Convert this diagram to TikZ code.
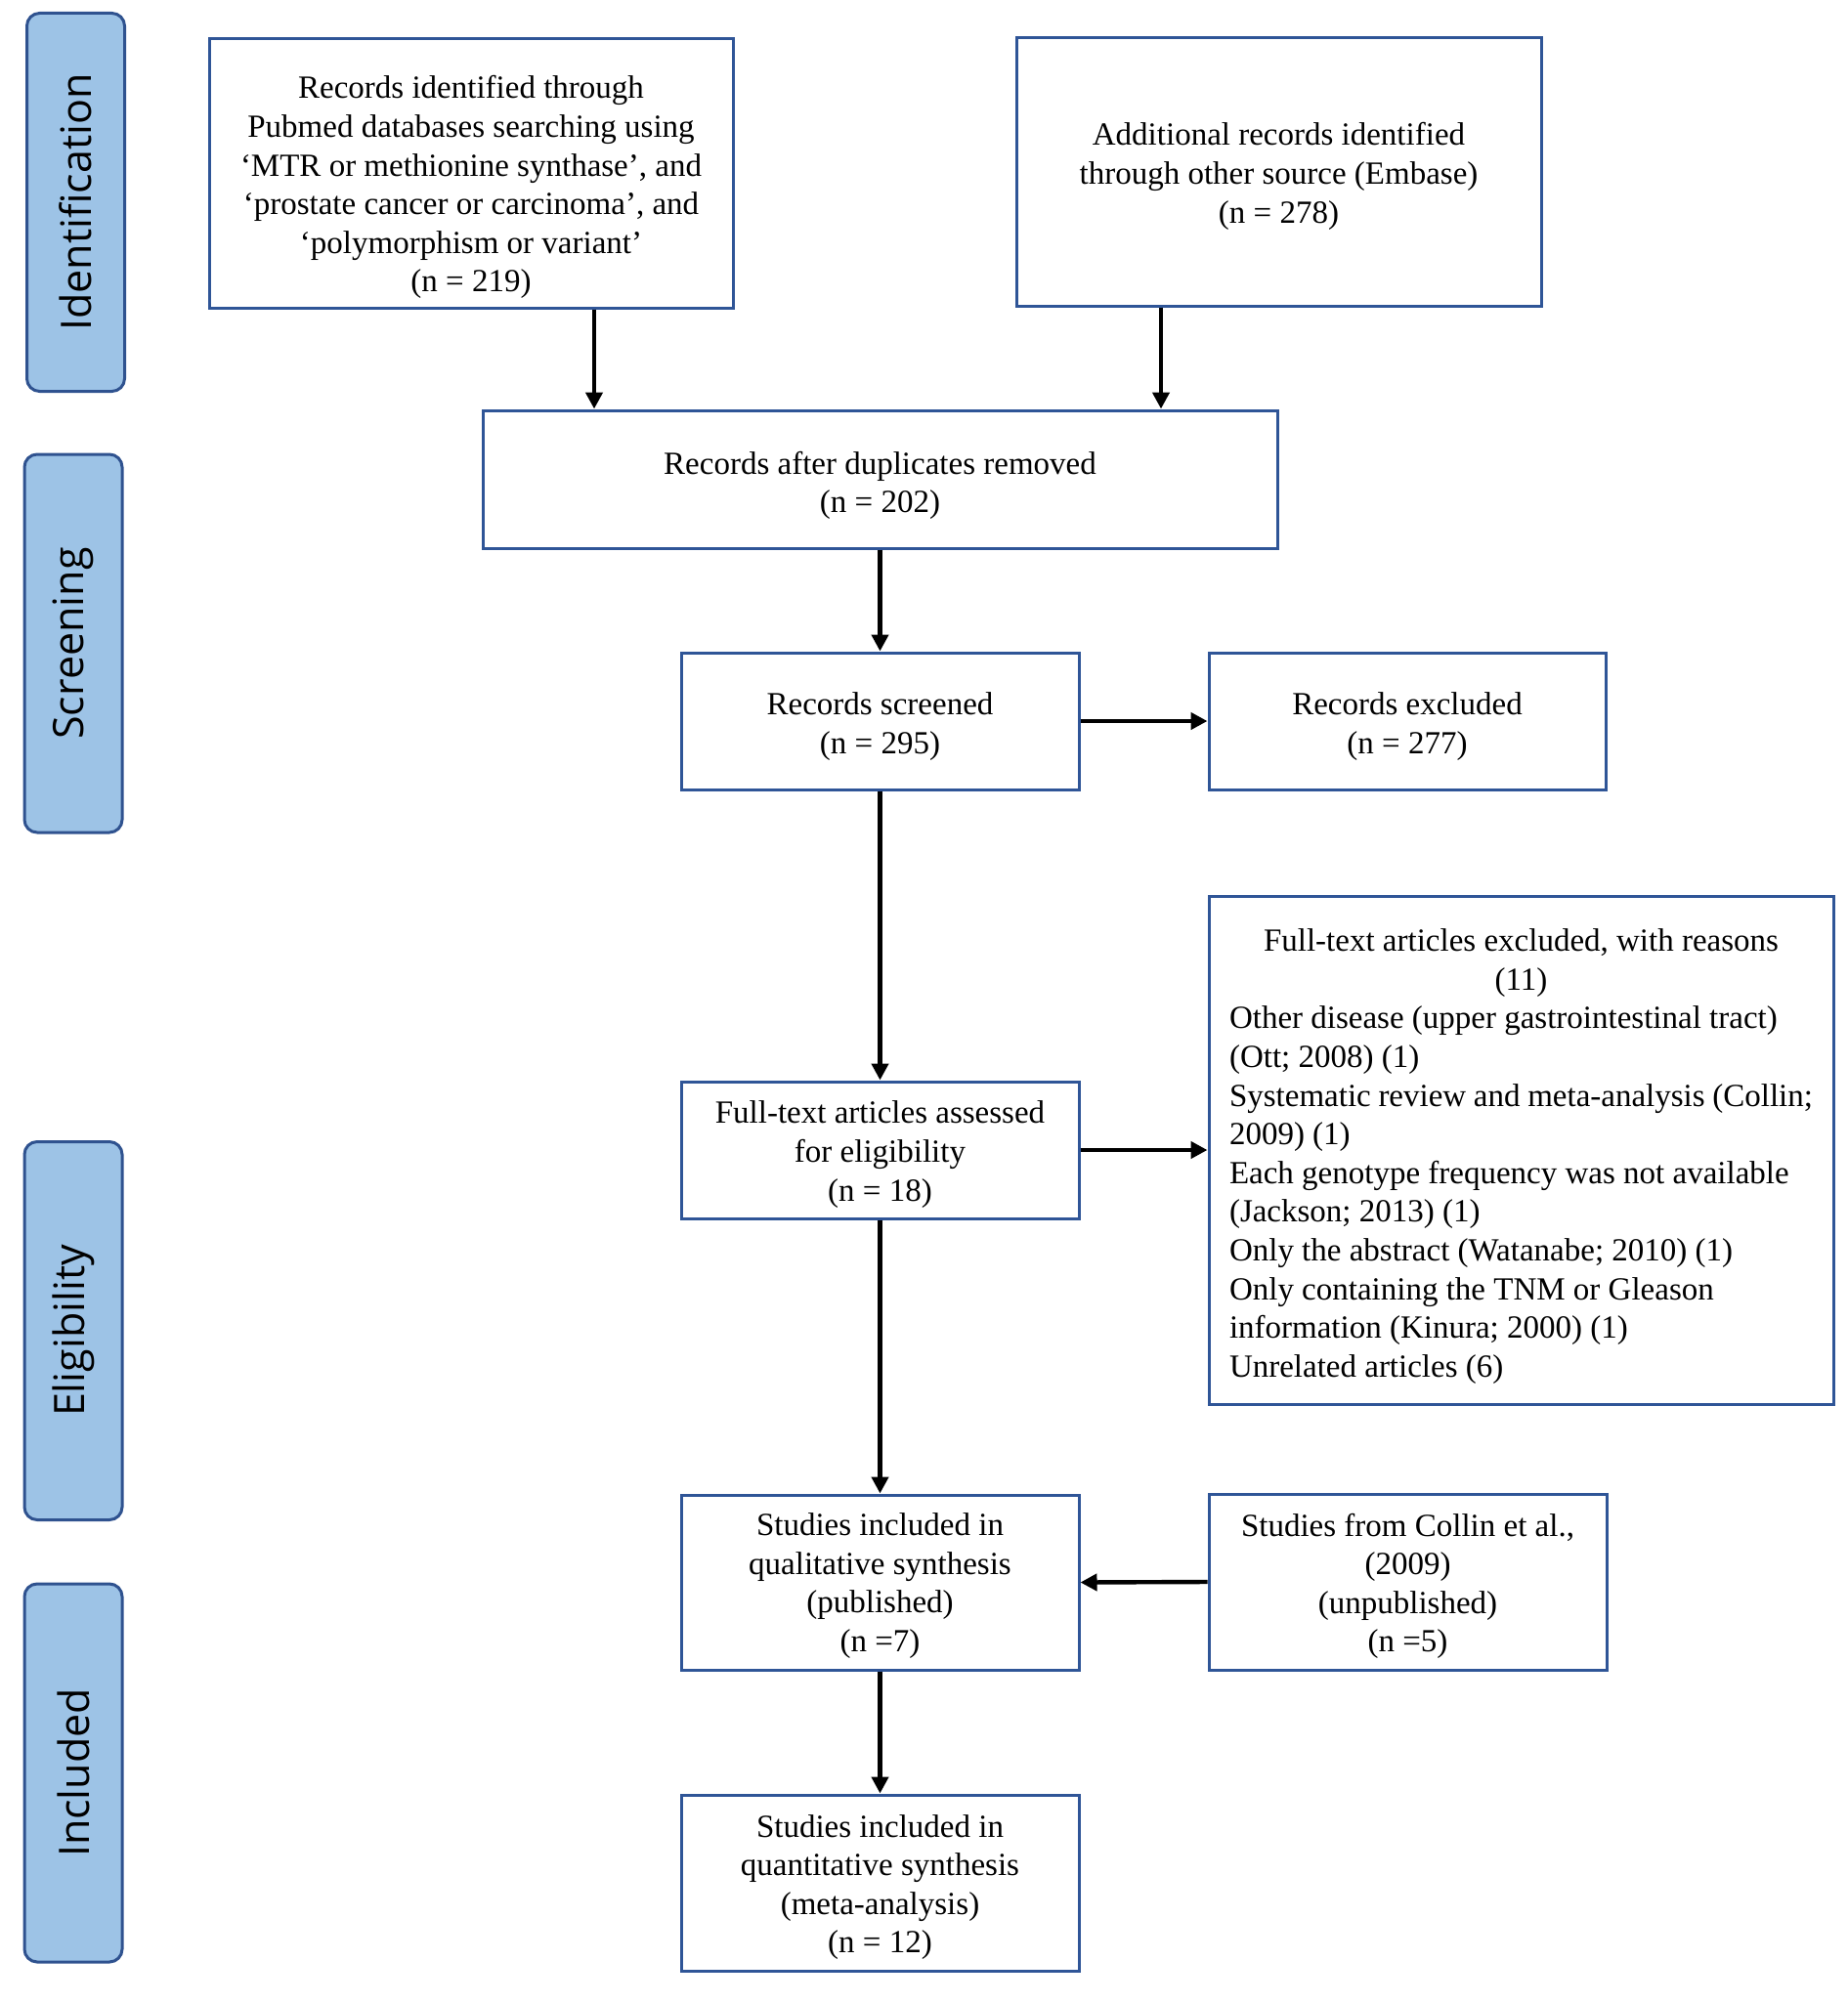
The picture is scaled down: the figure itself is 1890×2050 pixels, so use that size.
\documentclass[tikz,border=0pt]{standalone}
\usepackage{fontspec}
\setmainfont{Liberation Serif}
\newfontfamily\sidefont{Open Sans}
\usetikzlibrary{arrows.meta}
\definecolor{boxblue}{HTML}{2F5597}
\definecolor{sideborder}{HTML}{2F528F}
\definecolor{sidefill}{HTML}{9DC3E6}
\newcommand\mylinestrut[1]{\rule{0pt}{#1}}
\tikzset{
  flowbox/.style={draw=boxblue, line width=1.5pt, align=center, inner sep=0pt,
    font=\fontsize{16.5}{19.8}\selectfont},
  sidebox/.style={draw=sideborder, fill=sidefill, rounded corners=6.5pt, line width=1.5pt,
    minimum width=50pt, minimum height=193.5pt, inner sep=0pt},
  sidetext/.style={rotate=90, font=\sidefont\fontsize{21.5}{25}\selectfont, inner sep=0pt},
  arr/.style={line width=2.2pt, -{Triangle[length=8.5pt,width=8.5pt]}}
}
\begin{document}
\begin{tikzpicture}[x=0.5pt,y=-0.5pt]
\useasboundingbox (0,0) rectangle (1890,2050);
% side phase boxes
\node[sidebox] (s1) at (77.5,207) {};
\node[sidetext] (s1t) at (s1) {Identification};
\node[sidebox] (s2) at (75,658.5) {};
\node[sidetext] (s2t) at (s2) {Screening};
\node[sidebox] (s3) at (75,1362) {};
\node[sidetext] (s3t) at (s3) {Eligibility};
\node[sidebox] (s4) at (75,1814.5) {};
\node[sidetext] (s4t) at (s4) {Included};
% flow boxes
\node[flowbox, minimum width=268pt, minimum height=137.5pt] (A) at (482,177.5)
  {\mylinestrut{26pt}Records identified through\\Pubmed databases searching using\\`MTR or methionine synthase', and\\`prostate cancer or carcinoma', and\\`polymorphism or variant'\\(n = 219)};
\node[flowbox, minimum width=268.5pt, minimum height=137pt] (B) at (1308.5,176)
  {\mylinestrut{16pt}Additional records identified\\through other source (Embase)\\(n = 278)};
\node[flowbox, minimum width=406.5pt, minimum height=70.5pt] (C) at (900.5,490.5)
  {\mylinestrut{18pt}Records after duplicates removed\\(n = 202)};
\node[flowbox, minimum width=203.5pt, minimum height=70pt] (D) at (900.5,738)
  {\mylinestrut{17pt}Records screened\\(n = 295)};
\node[flowbox, minimum width=203pt, minimum height=70pt] (E) at (1440,738)
  {\mylinestrut{17pt}Records excluded\\(n = 277)};
\node[flowbox, minimum width=203.5pt, minimum height=70pt] (F) at (900.5,1177)
  {\mylinestrut{16pt}Full-text articles assessed\\for eligibility\\(n = 18)};
\node[flowbox, minimum width=319.5pt, minimum height=260pt, text width=298.5pt, align=none] (G) at (1556.5,1177)
  {\mylinestrut{18pt}\centering Full-text articles excluded, with reasons\\(11)\par
   \raggedright Other disease (upper gastrointestinal tract)\\(Ott; 2008) (1)\\Systematic review and meta-analysis (Collin;\\2009) (1)\\Each genotype frequency was not available\\(Jackson; 2013) (1)\\Only the abstract (Watanabe; 2010) (1)\\Only containing the TNM or Gleason\\information (Kinura; 2000) (1)\\Unrelated articles (6)\par};
\node[flowbox, minimum width=203.5pt, minimum height=89.5pt] (H) at (900.5,1619.5)
  {\mylinestrut{15pt}Studies included in\\qualitative synthesis\\(published)\\(n =7)};
\node[flowbox, minimum width=203.5pt, minimum height=90pt] (I) at (1440.5,1619)
  {\mylinestrut{16pt}Studies from Collin et al.,\\(2009)\\(unpublished)\\(n =5)};
\node[flowbox, minimum width=203.5pt, minimum height=90pt] (J) at (900.5,1927)
  {\mylinestrut{16pt}Studies included in\\quantitative synthesis\\(meta-analysis)\\(n = 12)};
% connectors
\draw[arr] ([xshift=63pt]A.south) -- ([xshift=63pt]A.south |- C.north);
\draw[arr] ([xshift=-60.25pt]B.south) -- ([xshift=-60.25pt]B.south |- C.north);
\draw[arr] (C.south) -- (D.north);
\draw[arr] (D.east) -- (E.west);
\draw[arr] (D.south) -- (F.north);
\draw[arr] (F.east) -- (F.east -| G.west);
\draw[arr] (F.south) -- (H.north);
\draw[arr] (I.west) -- (H.east);
\draw[arr] (H.south) -- (J.north);
\end{tikzpicture}
\end{document}
